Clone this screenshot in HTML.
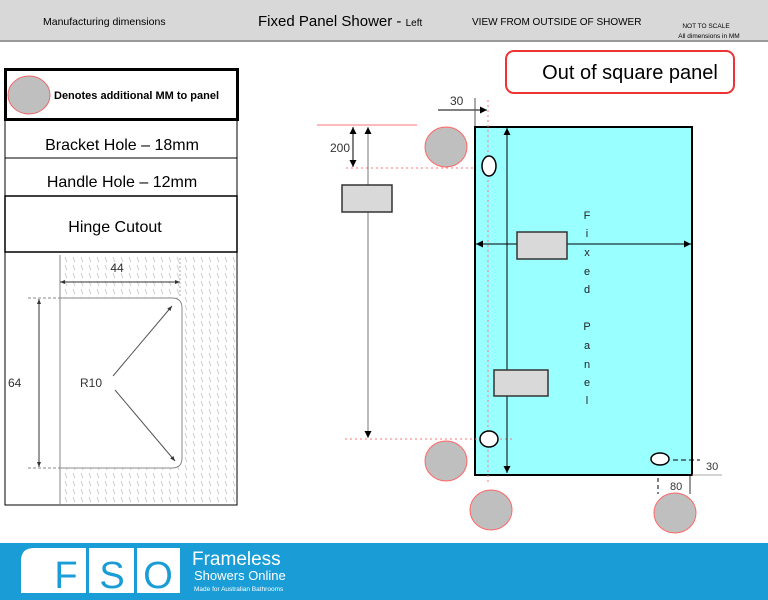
<!DOCTYPE html>
<html><head><style>
html,body{margin:0;padding:0;background:#fff;width:768px;height:600px;overflow:hidden}
svg{display:block;font-family:"Liberation Sans",sans-serif}
</style></head><body>
<svg width="768" height="600" viewBox="0 0 768 600" xmlns="http://www.w3.org/2000/svg">
<defs>
<marker id="a" viewBox="0 0 10 10" refX="10" refY="5" markerWidth="7" markerHeight="7" orient="auto-start-reverse"><path d="M0,0 L10,5 L0,10 z" fill="#000"/></marker>
<marker id="g" viewBox="0 0 10 10" refX="10" refY="5" markerWidth="5" markerHeight="7" orient="auto-start-reverse"><path d="M0,1 L10,5 L0,9 z" fill="#333"/></marker>
<pattern id="h" width="8" height="8" patternUnits="userSpaceOnUse"><path d="M1,1 L3,6" stroke="#c4c4c4" stroke-width="0.8"/></pattern>
</defs>
<!-- header -->
<rect x="0" y="0" width="768" height="41" fill="#d8d8d8"/>
<line x1="0" y1="41" x2="768" y2="41" stroke="#999" stroke-width="2"/>
<text x="43" y="25" font-size="10.5">Manufacturing dimensions</text>
<text x="258" y="26" font-size="15">Fixed Panel Shower - <tspan font-size="10">Left</tspan></text>
<text x="472" y="25" font-size="10">VIEW FROM OUTSIDE OF SHOWER</text>
<text x="706" y="28" font-size="6.5" text-anchor="middle">NOT TO SCALE</text>
<text x="709" y="38" font-size="6.5" text-anchor="middle">All dimensions in MM</text>
<!-- left table -->
<rect x="5" y="120" width="232" height="385" fill="#fff" stroke="#000" stroke-width="1"/>
<line x1="5" y1="158" x2="237" y2="158" stroke="#000"/>
<line x1="5" y1="196" x2="237" y2="196" stroke="#000"/>
<rect x="5" y="196" width="232" height="56" fill="none" stroke="#000" stroke-width="1.5"/>
<rect x="5.5" y="69.5" width="232" height="50" fill="#fff" stroke="#000" stroke-width="3"/>
<ellipse cx="29" cy="95" rx="21" ry="19" fill="#bfbfbf" stroke="#e66" stroke-width="1"/>
<text x="54" y="99" font-size="11" font-weight="bold">Denotes additional MM to panel</text>
<text x="122" y="150" font-size="16" text-anchor="middle">Bracket Hole – 18mm</text>
<text x="122" y="187" font-size="16" text-anchor="middle">Handle Hole – 12mm</text>
<text x="115" y="232" font-size="16" text-anchor="middle">Hinge Cutout</text>
<!-- hinge drawing -->
<rect x="60" y="255" width="176" height="249" fill="url(#h)"/>
<line x1="60" y1="255" x2="60" y2="504" stroke="#888"/>
<path d="M60,298 H172 Q182,298 182,308 V458 Q182,468 172,468 H60 Z" fill="#fff" stroke="#888"/>
<line x1="60" y1="282" x2="180" y2="282" stroke="#333" marker-start="url(#g)" marker-end="url(#g)"/>
<line x1="180" y1="258" x2="180" y2="298" stroke="#aaa" stroke-dasharray="2,2"/>
<text x="117" y="272" font-size="12" text-anchor="middle" fill="#333">44</text>
<line x1="28" y1="298" x2="60" y2="298" stroke="#888" stroke-dasharray="3,2"/>
<line x1="28" y1="468" x2="60" y2="468" stroke="#888" stroke-dasharray="3,2"/>
<line x1="39" y1="299" x2="39" y2="467" stroke="#333" marker-start="url(#g)" marker-end="url(#g)"/>
<text x="8" y="387" font-size="12" fill="#333">64</text>
<text x="80" y="387" font-size="12" fill="#333">R10</text>
<line x1="113" y1="376" x2="172" y2="306" stroke="#555" marker-end="url(#g)"/>
<line x1="115" y1="390" x2="175" y2="461" stroke="#555" marker-end="url(#g)"/>
<!-- right title -->
<rect x="506" y="51" width="228" height="42" rx="8" fill="#fff" stroke="#e33" stroke-width="2"/>
<text x="630" y="79" font-size="20" text-anchor="middle">Out of square panel</text>
<!-- panel -->
<rect x="475" y="127" width="217" height="348" fill="#99ffff" stroke="#000" stroke-width="2"/>
<line x1="488" y1="100" x2="488" y2="484" stroke="#f77" stroke-dasharray="2,3"/>
<line x1="317" y1="125" x2="417" y2="125" stroke="#f77"/>
<line x1="346" y1="168" x2="475" y2="168" stroke="#f77" stroke-dasharray="2,3"/>
<line x1="345" y1="439" x2="515" y2="439" stroke="#f77" stroke-dasharray="2,3"/>
<text x="450" y="105" font-size="12" fill="#333">30</text>
<line x1="438" y1="110" x2="487" y2="110" stroke="#000" marker-end="url(#a)"/>
<line x1="475" y1="98" x2="475" y2="126" stroke="#555"/>
<line x1="368" y1="127" x2="368" y2="438" stroke="#777" marker-start="url(#a)" marker-end="url(#a)"/>
<line x1="353" y1="127" x2="353" y2="167" stroke="#000" marker-start="url(#a)" marker-end="url(#a)"/>
<text x="330" y="152" font-size="12" fill="#333">200</text>
<rect x="342" y="185" width="50" height="27" fill="#d9d9d9" stroke="#333" stroke-width="1.5"/>
<ellipse cx="446" cy="147" rx="21" ry="20" fill="#bfbfbf" stroke="#f66"/>
<ellipse cx="446" cy="461" rx="21" ry="20" fill="#bfbfbf" stroke="#f66"/>
<ellipse cx="491" cy="510" rx="21" ry="20" fill="#bfbfbf" stroke="#f66"/>
<ellipse cx="675" cy="513" rx="21" ry="20" fill="#bfbfbf" stroke="#f66"/>
<line x1="507" y1="128" x2="507" y2="473" stroke="#000" marker-start="url(#a)" marker-end="url(#a)"/>
<line x1="476" y1="244" x2="691" y2="244" stroke="#000" marker-start="url(#a)" marker-end="url(#a)"/>
<rect x="517" y="232" width="50" height="27" fill="#d9d9d9" stroke="#333" stroke-width="1.5"/>
<rect x="494" y="370" width="54" height="26" fill="#d9d9d9" stroke="#333" stroke-width="1.5"/>
<ellipse cx="489" cy="166" rx="7" ry="10" fill="#fff" stroke="#000" stroke-width="1.5"/>
<ellipse cx="489" cy="439" rx="9" ry="8" fill="#fff" stroke="#000" stroke-width="1.5"/>
<ellipse cx="660" cy="459" rx="9" ry="6" fill="#fff" stroke="#000" stroke-width="1.5"/>
<g font-size="11" text-anchor="middle" fill="#222">
<text x="587" y="219">F</text><text x="587" y="237">i</text><text x="587" y="256">x</text><text x="587" y="275">e</text><text x="587" y="293">d</text>
<text x="587" y="330">P</text><text x="587" y="349">a</text><text x="587" y="368">n</text><text x="587" y="386">e</text><text x="587" y="404">l</text>
</g>
<line x1="673" y1="460" x2="700" y2="460" stroke="#000" stroke-dasharray="5,3"/>
<text x="706" y="470" font-size="11" fill="#333">30</text>
<line x1="692" y1="475" x2="722" y2="475" stroke="#aaa"/>
<line x1="658" y1="478" x2="658" y2="494" stroke="#000" stroke-dasharray="4,3"/>
<line x1="690" y1="476" x2="690" y2="494" stroke="#333"/>
<text x="670" y="490" font-size="11" fill="#333">80</text>
<!-- footer -->
<rect x="0" y="543" width="768" height="57" fill="#1a9dd6"/>
<path d="M34,548 H180 V593 H21 V561 Q21,548 34,548 Z" fill="#fff"/>
<rect x="86" y="548" width="3" height="45" fill="#1a9dd6"/>
<rect x="134" y="548" width="3" height="45" fill="#1a9dd6"/>
<text x="66" y="588" font-size="38" fill="#1a9dd6" text-anchor="middle">F</text>
<text x="112" y="588" font-size="38" fill="#1a9dd6" text-anchor="middle">S</text>
<text x="158" y="588" font-size="38" fill="#1a9dd6" text-anchor="middle">O</text>
<text x="192" y="565" font-size="19" fill="#fff">Frameless</text>
<text x="194" y="580" font-size="13" fill="#fff">Showers Online</text>
<text x="194" y="591" font-size="6.5" fill="#fff">Made for Australian Bathrooms</text>
</svg>
</body></html>
